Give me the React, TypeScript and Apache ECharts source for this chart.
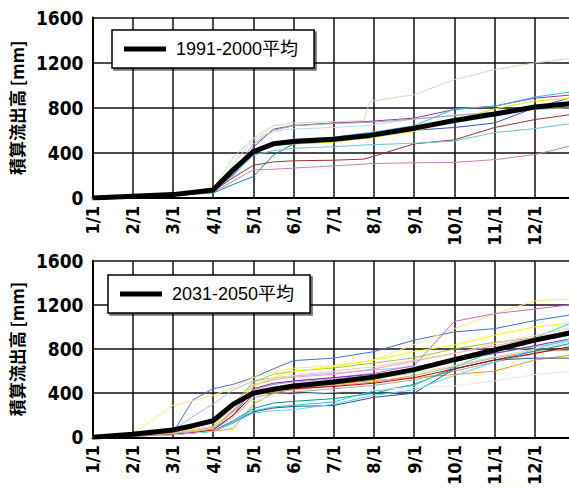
import React, { useEffect, useRef } from "react";
import * as echarts from "echarts";

// ---- shared axis data ----
const MONTH_LABELS = ["1/1", "2/1", "3/1", "4/1", "5/1", "6/1", "7/1", "8/1", "9/1", "10/1", "11/1", "12/1"];
const Y_MAX = 1600;
const Y_STEP = 400;
const Y_NAME = "積算流出高 [mm]";

// ---- top panel (1991-2000) ----
// x positions in months after 1/1
const X_TOP = [0, 1, 2, 3, 3.5, 4, 4.5, 5, 6, 6.75, 6.9, 8, 9, 10, 11, 12];
const AVG_TOP_NAME = "1991-2000平均";
const AVG_TOP = [0, 15, 30, 70, 250, 410, 480, 500, 520, 550, 555, 619, 687, 744, 806, 840];
const TOP_LIGHTGREEN = [0, 12, 28, 80, 360, 530, 640, 664, 678, 685, 856, 916, 1049, 1138, 1197, 1242];
const TOP_PURPLE = [0, 10, 25, 60, 200, 450, 610, 643, 665, 676, 680, 708, 785, 815, 885, 916];
const TOP_PALEBLUE = [0, 12, 28, 85, 300, 520, 590, 612, 625, 640, 645, 700, 735, 760, 790, 820];
const TOP_SKYBLUE = [0, 10, 25, 70, 240, 420, 490, 520, 540, 575, 580, 640, 790, 812, 895, 945];
const TOP_BLUE = [0, 10, 22, 60, 210, 390, 470, 480, 500, 530, 535, 600, 625, 665, 800, 900];
const TOP_TEAL = [0, 10, 20, 45, 120, 190, 380, 480, 520, 560, 565, 619, 694, 740, 797, 830];
const TOP_DARKRED = [0, 10, 22, 60, 180, 290, 320, 330, 335, 345, 360, 480, 515, 625, 695, 745];
const TOP_PINK = [0, 8, 20, 50, 150, 250, 255, 265, 285, 300, 305, 312, 315, 340, 385, 470];
const TOP_CYAN = [0, 10, 22, 55, 200, 380, 420, 440, 455, 470, 472, 485, 505, 580, 615, 665];
const TOP_YELLOW = [0, 12, 28, 90, 280, 420, 470, 480, 495, 530, 535, 590, 690, 790, 860, 885];
const TOP_GRAY = [0, 12, 26, 70, 230, 480, 600, 640, 660, 668, 670, 700, 730, 760, 785, 800];

const TOP_LINES: [string, number[]][] = [
  ["#c6e0b4", TOP_LIGHTGREEN],
  ["#993399", TOP_PURPLE],
  ["#b4dcf0", TOP_PALEBLUE],
  ["#33bbee", TOP_SKYBLUE],
  ["#3355bb", TOP_BLUE],
  ["#009999", TOP_TEAL],
  ["#993333", TOP_DARKRED],
  ["#c77fc4", TOP_PINK],
  ["#66c8dc", TOP_CYAN],
  ["#ffdd00", TOP_YELLOW],
  ["#a6a6a6", TOP_GRAY],
];

// ---- bottom panel (2031-2050) ----
const X_BOT = [0, 1, 2, 2.5, 3, 3.5, 4, 4.5, 5, 6, 7, 8, 9, 10, 11, 12];
const AVG_BOT_NAME = "2031-2050平均";
const AVG_BOT = [0, 27, 66, 105, 150, 300, 400, 435, 465, 500, 545, 613, 703, 791, 880, 955];
const BOT_BLUE = [0, 20, 40, 340, 440, 480, 540, 620, 695, 717, 776, 880, 955, 984, 1058, 1115];
const BOT_LIGHTYELLOW = [0, 30, 290, 330, 380, 450, 540, 590, 625, 650, 700, 840, 984, 1117, 1236, 1255];
const BOT_LIGHTBLUE = [0, 25, 60, 190, 300, 430, 510, 540, 556, 580, 610, 640, 700, 760, 820, 880];
const BOT_LIME = [0, 15, 40, 60, 90, 300, 500, 570, 600, 628, 673, 720, 800, 860, 900, 940];
const BOT_PINK = [0, 15, 35, 55, 80, 250, 470, 520, 545, 570, 620, 690, 760, 830, 900, 960];
const BOT_MAGENTA = [0, 15, 35, 55, 80, 240, 430, 480, 510, 540, 580, 650, 1050, 1120, 1162, 1206];
const BOT_PURPLE = [0, 15, 30, 50, 70, 200, 440, 490, 510, 540, 570, 620, 690, 760, 830, 900];
const BOT_ORANGE = [0, 10, 25, 40, 55, 80, 300, 400, 436, 480, 515, 540, 569, 599, 700, 750];
const BOT_TAN = [0, 15, 35, 50, 70, 200, 380, 410, 430, 470, 500, 560, 640, 720, 780, 790];
const BOT_GRAY = [0, 15, 30, 45, 65, 180, 360, 395, 410, 440, 470, 520, 600, 680, 760, 820];
const BOT_TEAL = [0, 10, 25, 40, 60, 150, 260, 310, 326, 350, 400, 480, 620, 700, 780, 860];
const BOT_CYAN = [0, 10, 25, 40, 55, 140, 240, 275, 290, 320, 420, 470, 640, 780, 900, 1050];
const BOT_DARKBLUE = [0, 10, 25, 40, 55, 130, 230, 265, 280, 288, 362, 400, 620, 700, 717, 717];
const BOT_SKY = [0, 10, 25, 40, 55, 130, 220, 240, 250, 300, 380, 430, 560, 680, 800, 900];
const BOT_PALEBLUE = [0, 10, 25, 40, 60, 180, 330, 370, 390, 410, 430, 450, 465, 510, 569, 599];
const BOT_DARKRED = [0, 12, 30, 45, 65, 200, 390, 420, 440, 460, 490, 540, 620, 700, 760, 830];
const BOT_YELLOW = [0, 15, 35, 55, 80, 260, 460, 540, 600, 640, 700, 776, 836, 925, 1000, 1040];
const BOT_PEACH = [0, 20, 45, 70, 100, 280, 480, 530, 560, 600, 640, 700, 760, 850, 920, 1000];
const BOT_LAVENDER = [0, 15, 35, 50, 75, 230, 430, 480, 500, 530, 560, 620, 700, 790, 880, 960];
const BOT_PALEGREEN = [0, 30, 70, 110, 130, 250, 420, 450, 470, 500, 530, 580, 650, 730, 800, 870];

const BOT_LINES: [string, number[]][] = [
  ["#4472c4", BOT_BLUE],
  ["#ffe680", BOT_LIGHTYELLOW],
  ["#9dc3e6", BOT_LIGHTBLUE],
  ["#99cc33", BOT_LIME],
  ["#ff99cc", BOT_PINK],
  ["#cc66cc", BOT_MAGENTA],
  ["#7030a0", BOT_PURPLE],
  ["#ff9900", BOT_ORANGE],
  ["#c9a77c", BOT_TAN],
  ["#a5a5a5", BOT_GRAY],
  ["#009999", BOT_TEAL],
  ["#33cccc", BOT_CYAN],
  ["#2f5597", BOT_DARKBLUE],
  ["#66ccff", BOT_SKY],
  ["#ddebf7", BOT_PALEBLUE],
  ["#c00000", BOT_DARKRED],
  ["#ffff00", BOT_YELLOW],
  ["#f8cbad", BOT_PEACH],
  ["#b4a7d6", BOT_LAVENDER],
  ["#c5e0b4", BOT_PALEGREEN],
];

const pairs = (xs: number[], ys: number[]) => xs.map((x, i) => [x, ys[i]]);

const NUM_FONT = "'DejaVu Sans Condensed', 'Liberation Sans Narrow', sans-serif";
const LEG_FONT = "'Liberation Sans', 'Noto Sans CJK JP', sans-serif";

function buildOption() {
  const grids = [
    { left: 91, top: 17.5, width: 484, height: 180.5 },
    { left: 91, top: 260.7, width: 484, height: 180 },
  ];
  const xAxis = grids.map((_, gi) => ({
    type: "value",
    gridIndex: gi,
    min: 0,
    max: 12,
    interval: 1,
    axisLine: { show: true, lineStyle: { color: "#000", width: 2 } },
    axisTick: { show: false },
    splitLine: { show: true, lineStyle: { color: "#111", width: 1.5 } },
    axisLabel: {
      rotate: 90,
      margin: 8,
      color: "#000",
      fontWeight: "bold",
      fontSize: 18,
      fontFamily: NUM_FONT,
      formatter: (v: number) => MONTH_LABELS[Math.round(v)] ?? "",
    },
  }));
  const yAxis = grids.map((_, gi) => ({
    type: "value",
    gridIndex: gi,
    min: 0,
    max: Y_MAX,
    interval: Y_STEP,
    name: Y_NAME,
    nameLocation: "middle",
    nameGap: 56,
    nameRotate: 90,
    nameTextStyle: {
      color: "#000",
      fontWeight: "bold",
      fontSize: 17,
      fontFamily: "'Noto Sans CJK JP', sans-serif",
    },
    axisLine: { show: true, lineStyle: { color: "#000", width: 2 } },
    axisTick: { show: false },
    splitLine: { show: true, lineStyle: { color: "#111", width: 1.5 } },
    axisLabel: {
      margin: 9,
      color: "#000",
      fontWeight: "bold",
      fontSize: 19,
      fontFamily: NUM_FONT,
      formatter: (v: number) => String(v),
    },
  }));

  const series: any[] = [];
  TOP_LINES.forEach(([c, d], i) =>
    series.push({
      name: "top" + i,
      type: "line",
      xAxisIndex: 0,
      yAxisIndex: 0,
      data: pairs(X_TOP, d),
      symbol: "none",
      lineStyle: { color: c, width: 1 },
      itemStyle: { color: c },
      z: 2,
    })
  );
  series.push({
    name: AVG_TOP_NAME,
    type: "line",
    xAxisIndex: 0,
    yAxisIndex: 0,
    data: pairs(X_TOP, AVG_TOP),
    symbol: "none",
    lineStyle: { color: "#000", width: 5 },
    itemStyle: { color: "#000" },
    z: 3,
  });
  BOT_LINES.forEach(([c, d], i) =>
    series.push({
      name: "bot" + i,
      type: "line",
      xAxisIndex: 1,
      yAxisIndex: 1,
      data: pairs(X_BOT, d),
      symbol: "none",
      lineStyle: { color: c, width: 1 },
      itemStyle: { color: c },
      z: 2,
    })
  );
  series.push({
    name: AVG_BOT_NAME,
    type: "line",
    xAxisIndex: 1,
    yAxisIndex: 1,
    data: pairs(X_BOT, AVG_BOT),
    symbol: "none",
    lineStyle: { color: "#000", width: 5 },
    itemStyle: { color: "#000" },
    z: 3,
  });

  const legendBase = {
    orient: "horizontal",
    backgroundColor: "#fff",
    borderColor: "#000",
    borderWidth: 1.5,
    padding: [10, 16, 10, 12],
    itemWidth: 42,
    itemHeight: 5,
    itemGap: 0,
    icon: "rect",
    selectedMode: false,
    shadowColor: "rgba(0,0,0,0.55)",
    shadowOffsetX: 2,
    shadowOffsetY: 2,
    shadowBlur: 0,
    textStyle: { fontSize: 18, fontFamily: LEG_FONT, color: "#000", padding: [0, 0, 0, 5] },
  };

  return {
    animation: false,
    backgroundColor: "#fff",
    grid: grids,
    xAxis,
    yAxis,
    legend: [
      { ...legendBase, data: [AVG_TOP_NAME], left: 112, top: 30 },
      { ...legendBase, data: [AVG_BOT_NAME], left: 108, top: 275 },
    ],
    series,
  };
}

export default function App() {
  const ref = useRef<HTMLDivElement>(null);
  useEffect(() => {
    if (!ref.current) return;
    const chart = echarts.init(ref.current, null, { renderer: "svg" });
    chart.setOption(buildOption() as any);
    return () => chart.dispose();
  }, []);
  return (
    <div style={{ position: "absolute", left: 0, top: 0, width: 569, height: 488, overflow: "hidden", background: "#fff" }}>
      <div ref={ref} style={{ width: 600, height: 488 }} />
    </div>
  );
}
